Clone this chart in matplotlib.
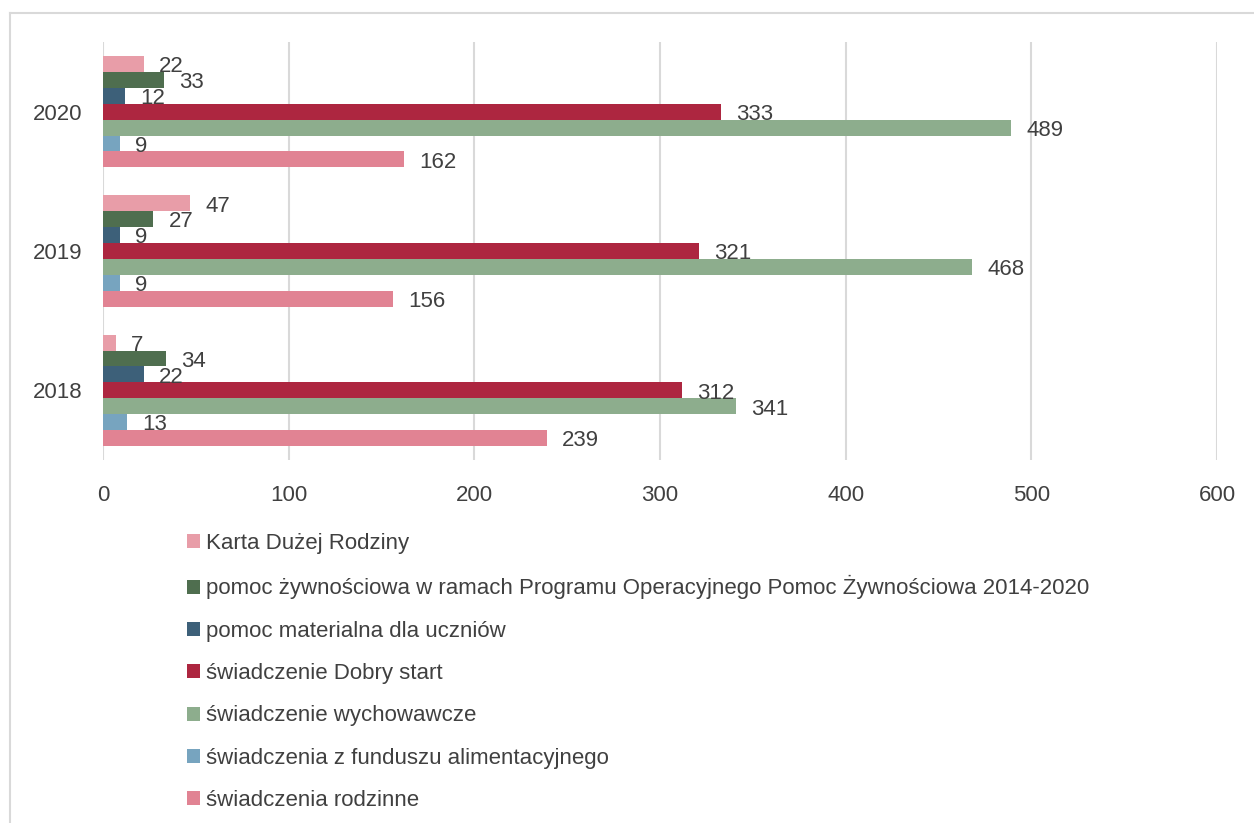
import matplotlib.pyplot as plt
import numpy as np
from matplotlib.patches import Patch
from matplotlib.lines import Line2D

years = ["2018", "2019", "2020"]
series = [
    "Karta Dużej Rodziny",
    "pomoc żywnościowa w ramach Programu Operacyjnego Pomoc Żywnościowa 2014-2020",
    "pomoc materialna dla uczniów",
    "świadczenie Dobry start",
    "świadczenie wychowawcze",
    "świadczenia z funduszu alimentacyjnego",
    "świadczenia rodzinne",
]
karta = [7, 47, 22]
zywn = [34, 27, 33]
material = [22, 9, 12]
dobry = [312, 321, 333]
wychow = [341, 468, 489]
alim = [13, 9, 9]
rodzinne = [239, 156, 162]
values = [karta, zywn, material, dobry, wychow, alim, rodzinne]
colors = ["#E89DA8", "#4F6E4F", "#3D6079", "#AD2640", "#8DAD8D", "#77A4BF", "#E18393"]

plt.rcParams['font.family'] = ['Liberation Sans', 'DejaVu Sans']
txt = "#404040"
fs = 16

fig = plt.figure(figsize=(12.54, 8.23), dpi=100)
ax = fig.add_axes([103 / 1254, 1 - 460 / 823, (1217 - 103) / 1254, (460 - 42) / 823])

y = np.arange(len(years))
h = 0.8 / 7
for i, (name, vals, c) in enumerate(zip(series, values, colors)):
    off = (3 - i) * h
    ax.barh(y + off, vals, height=h, color=c, label=name)
    for yy, v in zip(y + off, vals):
        ax.annotate(str(v), (v, yy), xytext=(11, -2), textcoords="offset points",
                    va="center", ha="left", fontsize=fs, color=txt)

ax.set_xlim(0, 600)
ax.set_ylim(-0.5, 2.5)
ax.set_xticks(range(0, 601, 100))
ax.set_yticks(y)
ax.set_yticklabels(years)
ax.tick_params(length=0, labelsize=fs, labelcolor=txt)
ax.tick_params(axis="x", pad=18)
ax.tick_params(axis="y", pad=15)
ax.grid(axis="x", color="#D9D9D9", linewidth=1.5)
ax.set_axisbelow(True)
for s in ax.spines.values():
    s.set_visible(False)

handles = [Patch(facecolor=c, edgecolor="none") for c in colors]
leg = fig.legend(handles, series, loc="upper left", bbox_to_anchor=(187 / 1254, 1 - 533 / 823),
                 frameon=False, fontsize=fs, labelspacing=0.96, handlelength=0.6,
                 handleheight=0.6, handletextpad=0.27, borderaxespad=0, borderpad=0)
for t in leg.get_texts():
    t.set_color(txt)

fig.add_artist(Line2D([10 / 1254, 1], [1 - 13 / 823, 1 - 13 / 823], color="#D9D9D9", linewidth=1.5))
fig.add_artist(Line2D([10 / 1254, 10 / 1254], [0, 1 - 13 / 823], color="#D9D9D9", linewidth=1.5))

fig.savefig("out.png", dpi=100)
